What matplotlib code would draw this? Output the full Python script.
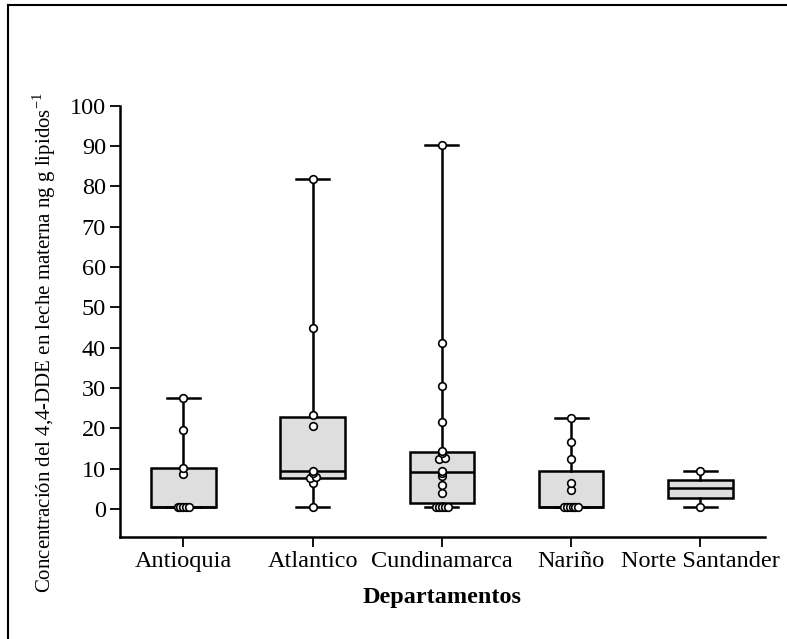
import matplotlib
matplotlib.use("Agg")
import matplotlib.pyplot as plt
from matplotlib.lines import Line2D

plt.rcParams['font.family'] = ['Liberation Serif', 'DejaVu Serif']
plt.rcParams['mathtext.fontset'] = 'custom'
plt.rcParams['mathtext.rm'] = 'Liberation Serif'

# ---- data ----
categories = ["Antioquia", "Atlantico", "Cundinamarca", "Nariño", "Norte Santander"]

# box statistics: lower whisker, Q1, median, Q3, upper whisker
whislo = [0.6, 0.6, 0.6, 0.6, 0.6]
q1 = [0.6, 7.6, 1.4, 0.6, 2.8]
med = [0.6, 9.5, 9.2, 0.6, 5.1]
q3 = [10.2, 22.8, 14.1, 9.5, 7.2]
whishi = [27.6, 81.8, 90.3, 22.6, 9.4]

# individual observations shown as circles
pts_antioquia = [27.6, 19.6, 10.2, 8.8, 0.6, 0.6, 0.6, 0.6, 0.6]
pts_atlantico = [81.8, 45.0, 23.4, 20.6, 9.5, 9.0, 7.9, 7.6, 6.5, 0.6]
pts_cundinamarca = [90.3, 41.2, 30.5, 21.5, 14.4, 13.8, 12.7, 12.3, 9.5, 9.0,
                    8.2, 5.9, 4.0, 0.6, 0.6, 0.6, 0.6, 0.6]
pts_narino = [22.6, 16.7, 12.4, 6.5, 4.6, 0.6, 0.6, 0.6, 0.6, 0.6, 0.6]
pts_norte = [9.4, 0.6]
points = [pts_antioquia, pts_atlantico, pts_cundinamarca, pts_narino, pts_norte]

yticks = [0, 10, 20, 30, 40, 50, 60, 70, 80, 90, 100]
ylabel = "Concentración del 4,4-DDE en leche materna ng g lipidos$^{\\mathregular{-1}}$"
xlabel = "Departamentos"

# ---- figure ----
W, H = 787, 639
fig = plt.figure(figsize=(W / 100, H / 100), dpi=100)
ax = fig.add_axes([120 / W, 1 - 537 / H, (765 - 120) / W, (537 - 105.7) / H])

stats = []
for i in range(len(categories)):
    stats.append(dict(whislo=whislo[i], q1=q1[i], med=med[i], q3=q3[i],
                      whishi=whishi[i], fliers=[], label=categories[i]))

lw = 1.8
ax.bxp(stats, positions=range(len(categories)), widths=0.5, capwidths=0.255,
       patch_artist=True, showfliers=False,
       boxprops=dict(facecolor='#dedede', edgecolor='black', linewidth=lw),
       medianprops=dict(color='black', linewidth=lw),
       whiskerprops=dict(color='black', linewidth=lw),
       capprops=dict(color='black', linewidth=lw),
       zorder=2)

# dots: spread near-identical values sideways
for i, vals in enumerate(points):
    vs = sorted(vals)
    clusters = []
    for v in vs:
        if clusters and abs(v - clusters[-1][0]) < 0.4:
            clusters[-1].append(v)
        else:
            clusters.append([v])
    xs, ys = [], []
    for c in clusters:
        n = len(c)
        step = 0.046 if n == 2 else 0.022
        for k, v in enumerate(c):
            xs.append(i + (k - (n - 1) / 2) * step)
            ys.append(v)
    ax.plot(xs, ys, 'o', ms=5.5, mfc='white', mec='black', mew=1.2,
            linestyle='none', zorder=3)

ax.set_xlim(-0.49, 4.50)
ax.set_ylim(-6.94, 100)
ax.set_yticks(yticks)
ax.set_xticks(range(len(categories)))
ax.set_xticklabels(categories)
for s in ['top', 'right']:
    ax.spines[s].set_visible(False)
for s in ['left', 'bottom']:
    ax.spines[s].set_linewidth(1.8)
ax.tick_params(axis='both', length=7, width=1.3, pad=3, labelsize=17.5,
               direction='out', colors='black')

fig.text(442 / W, 1 - 597 / H, xlabel, ha='center', va='center',
         fontsize=17.5, fontweight='bold')
fig.text(44 / W, 1 - 343 / H, ylabel, ha='center', va='center',
         rotation=90, fontsize=15)

# outer frame (left and top edges visible)
fig.add_artist(Line2D([8 / W, 8 / W], [0, 1 - 5 / H], transform=fig.transFigure,
                      color='black', lw=1.5))
fig.add_artist(Line2D([8 / W, 1], [1 - 5 / H, 1 - 5 / H], transform=fig.transFigure,
                      color='black', lw=1.5))

fig.savefig("out.png", dpi=100)
